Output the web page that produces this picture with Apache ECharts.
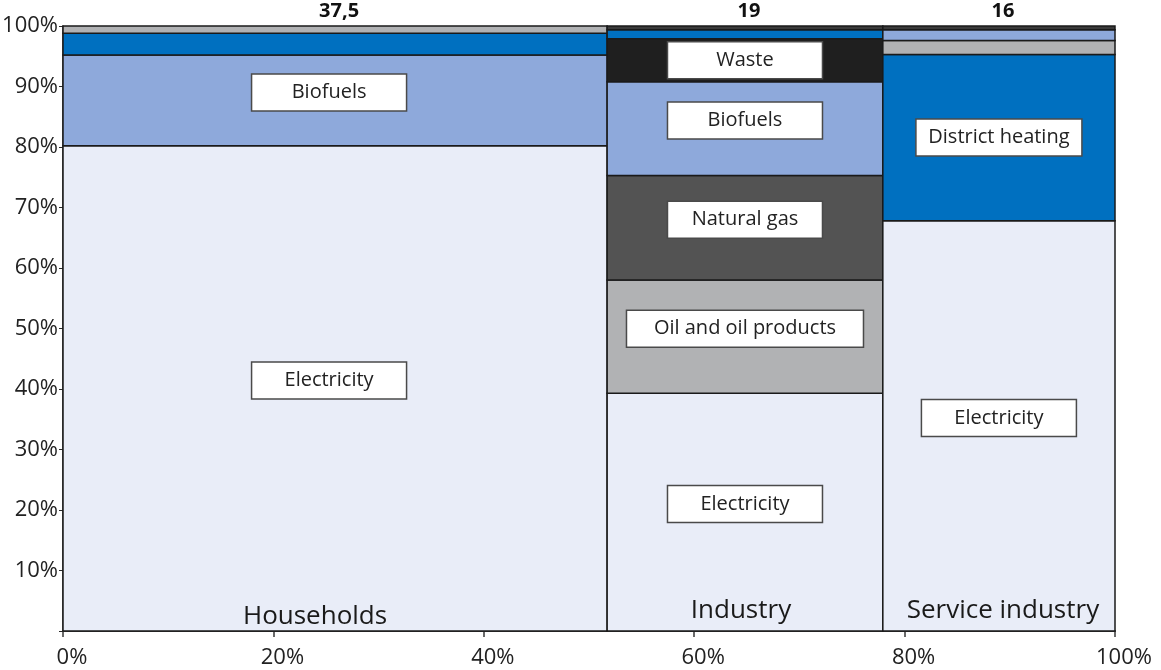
<!DOCTYPE html>
<html>
<head>
<meta charset="utf-8">
<script src="https://cdn.jsdelivr.net/npm/echarts@6/dist/echarts.min.js"></script>
<style>
  html, body { margin: 0; padding: 0; background: #ffffff; }
  #chart { width: 1161px; height: 670px; }
</style>
</head>
<body>
<div id="chart"></div>
<script>
// Final energy use by sector (TWh) and its split by energy carrier (% of sector)
const sectors = ['Households', 'Industry', 'Service industry'];
const sectorTotals = [37.5, 19, 16];

// Carriers are listed bottom-to-top within each column
const householdsCarriers = ['Electricity', 'Biofuels', 'District heating', 'Oil and oil products'];
const householdsShares   = [80.2, 15.0, 3.6, 1.2];

const industryCarriers = ['Electricity', 'Oil and oil products', 'Natural gas', 'Biofuels', 'Waste', 'District heating', 'Other'];
const industryShares   = [39.3, 18.7, 17.3, 15.5, 7.1, 1.5, 0.6];

const serviceCarriers = ['Electricity', 'District heating', 'Oil and oil products', 'Biofuels', 'Other'];
const serviceShares   = [67.8, 27.5, 2.3, 1.8, 0.6];

const xTickValues = [0, 20, 40, 60, 80, 100];

const carrierColors = {
  'Electricity': '#E9EDF8',
  'Biofuels': '#8EA9DB',
  'District heating': '#0070C0',
  'Oil and oil products': '#B1B2B4',
  'Natural gas': '#535353',
  'Waste': '#1F1F1F',
  'Other': '#3A3A3A'
};
// Width of the white label boxes (px)
const labelBoxWidths = { 'Oil and oil products': 237, 'District heating': 166 };
const LABEL_MIN_SHARE = 5;
const FONT = '"Open Sans", "Noto Sans", sans-serif';

const carriersBySector = [householdsCarriers, industryCarriers, serviceCarriers];
const sharesBySector = [householdsShares, industryShares, serviceShares];
const grandTotal = sectorTotals.reduce((a, b) => a + b, 0);

// Build rectangles in data space: [x0, x1, y0, y1, sectorIdx, carrierIdx]
const cells = [];
const columns = [];
let xCursor = 0;
sectorTotals.forEach((total, s) => {
  const x0 = xCursor;
  const x1 = xCursor + total / grandTotal * 100;
  columns.push([x0, x1, s]);
  let yCursor = 0;
  sharesBySector[s].forEach((share, c) => {
    cells.push([x0, x1, yCursor, Math.min(100, yCursor + share), s, c]);
    yCursor += share;
  });
  xCursor = x1;
});

const chart = echarts.init(document.getElementById('chart'), null, { renderer: 'canvas' });

chart.setOption({
  backgroundColor: '#ffffff',
  animation: false,
  grid: { left: 63, right: 46, top: 26, bottom: 39, containLabel: false, outerBoundsMode: 'none' },
  xAxis: {
    type: 'value', min: 0, max: 100, interval: 20,
    axisLine: { show: true, lineStyle: { color: '#3a3a3a', width: 2 } },
    axisTick: { show: true, length: 6, lineStyle: { color: '#3a3a3a', width: 1.5 } },
    axisLabel: {
      formatter: v => xTickValues.includes(v) ? v + '%' : '',
      fontFamily: FONT, fontSize: 22, color: '#222', margin: 16,
      padding: [0, 0, 0, 18]
    },
    splitLine: { show: false }
  },
  yAxis: {
    type: 'value', min: 0, max: 100, interval: 10,
    axisLine: { show: true, lineStyle: { color: '#2a2a2a', width: 1.5 } },
    axisTick: { show: true, length: 4, lineStyle: { color: '#2a2a2a', width: 1 } },
    axisLabel: {
      formatter: v => v === 0 ? '' : v + '%',
      fontFamily: FONT, fontSize: 22, color: '#222', margin: 5
    },
    splitLine: { show: false }
  },
  series: [
    {
      type: 'custom',
      coordinateSystem: 'cartesian2d',
      data: cells,
      encode: { x: [0, 1], y: [2, 3] },
      renderItem: (params, api) => {
        const x0 = api.value(0), x1 = api.value(1), y0 = api.value(2), y1 = api.value(3);
        const s = api.value(4), c = api.value(5);
        const name = carriersBySector[s][c];
        const share = sharesBySector[s][c];
        const pBL = api.coord([x0, y0]);
        const pTR = api.coord([x1, y1]);
        const rect = { x: pBL[0], y: pTR[1], width: pTR[0] - pBL[0], height: pBL[1] - pTR[1] };
        const children = [{
          type: 'rect', shape: rect,
          style: { fill: carrierColors[name], stroke: '#1a1a1a', lineWidth: 1.5 }
        }];
        if (share >= LABEL_MIN_SHARE) {
          const cx = rect.x + rect.width / 2 - (s === 0 ? 6 : 0);
          const lift = name === 'District heating' ? 0 : (rect.height > 80 ? 8 : 0);
          const cy = rect.y + rect.height / 2 - lift;
          const bw = labelBoxWidths[name] || 155;
          const bh = 37;
          children.push({
            type: 'rect', z2: 10,
            shape: { x: cx - bw / 2, y: cy - bh / 2, width: bw, height: bh },
            style: { fill: '#ffffff', stroke: '#4a4a4a', lineWidth: 1.5 }
          });
          children.push({
            type: 'text', z2: 11,
            style: {
              text: name, x: cx, y: cy, align: 'center', verticalAlign: 'middle',
              fill: '#222', font: '20px ' + FONT
            }
          });
        }
        return { type: 'group', children };
      }
    },
    {
      // Sector names along the bottom and sector totals above each column
      type: 'custom',
      coordinateSystem: 'cartesian2d',
      data: columns,
      encode: { x: [0, 1] },
      z: 5,
      renderItem: (params, api) => {
        const x0 = api.value(0), x1 = api.value(1), s = api.value(2);
        const bottom = api.coord([(x0 + x1) / 2, 0]);
        const top = api.coord([(x0 + x1) / 2, 100]);
        return {
          type: 'group',
          children: [
            {
              type: 'text',
              style: {
                text: sectors[s], x: bottom[0] - (s === 0 ? 20 : 4) + (s === 2 ? 8 : 0), y: bottom[1] - (s === 0 ? 14 : 20),
                align: 'center', verticalAlign: 'middle', fill: '#1a1a1a', font: '26px ' + FONT
              }
            },
            {
              type: 'text',
              style: {
                text: String(sectorTotals[s]).replace('.', ','), x: top[0] + 4, y: top[1] - 15,
                align: 'center', verticalAlign: 'middle', fill: '#111', font: 'bold 20px ' + FONT
              }
            }
          ]
        };
      }
    }
  ]
});
</script>
</body>
</html>
